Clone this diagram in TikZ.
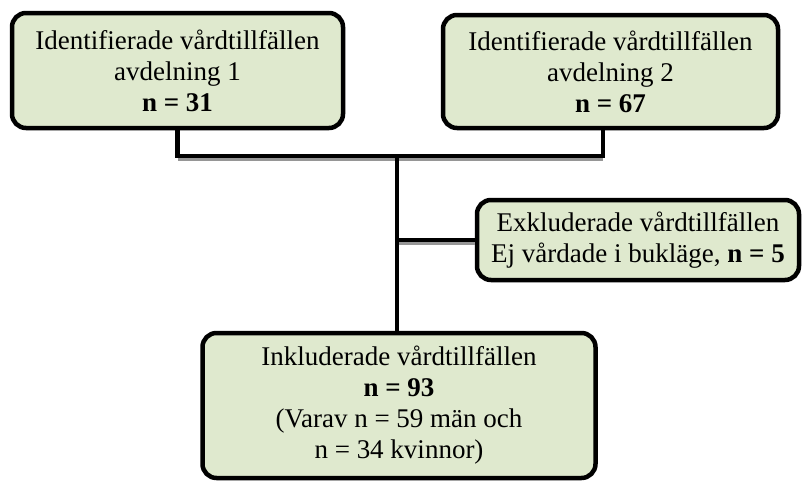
\documentclass[tikz,border=0pt]{standalone}
\usepackage{fontspec}
\setmainfont{Liberation Serif}
\definecolor{boxfill}{RGB}{223,233,206}
\definecolor{shadowgray}{RGB}{150,150,150}
\begin{document}
\begin{tikzpicture}[x=1pt,y=-1pt,
  box/.style={draw=black,line width=4.5pt,rounded corners=14pt,fill=boxfill,
    align=center,inner sep=0pt,font=\fontsize{27}{31}\selectfont},
  conn/.style={draw=black,line width=4.5pt},
  shade/.style={draw=shadowgray,line width=3pt}]
\useasboundingbox (0,0) rectangle (803,482);
\node[box,minimum width=331pt,minimum height=115pt] (a1) at (177.5,70.5)
  {Identifierade vårdtillfällen\\avdelning 1\\\textbf{n = 31}};
\node[box,minimum width=335pt,minimum height=113pt] (a2) at (610.5,71.5)
  {Identifierade vårdtillfällen\\avdelning 2\\\textbf{n = 67}};
\node[box,minimum width=322pt,minimum height=80pt] (ex) at (638,240)
  {Exkluderade vårdtillfällen\\Ej vårdade i bukläge, \textbf{n = 5}};
\node[box,minimum width=393pt,minimum height=145pt] (inc) at (399,405.5)
  {Inkluderade vårdtillfällen\\\textbf{n = 93}\\(Varav n = 59 män och\\n = 34 kvinnor)};
\coordinate (j) at (397,156);
\coordinate (jl) at (a1.south |- j);
\coordinate (jr2) at (603,156);
\coordinate (jr) at (jr2 |- a2.south);
\coordinate (je) at (j |- ex.west);
% shadows
\draw[shade] ([yshift=-3pt]jl) -- ([yshift=-3pt]jr2);
\draw[shade] ([yshift=-3pt]je) -- ([yshift=-3pt]ex.west);
% connectors
\draw[conn] (a1.south) -- (jl) -- (jr2) -- (jr);
\draw[conn] (j) -- (inc.north -| j);
\draw[conn] (je) -- (ex.west);
\end{tikzpicture}
\end{document}
